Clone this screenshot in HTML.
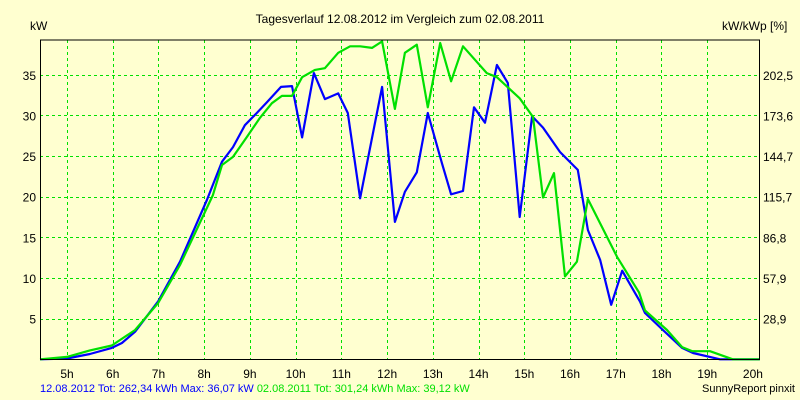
<!DOCTYPE html>
<html><head><meta charset="utf-8"><style>
html,body{margin:0;padding:0;background:#ffffd0;}
svg{display:block;font-family:"Liberation Sans",sans-serif;}
</style></head><body>
<svg id="chart" width="800" height="400" viewBox="0 0 800 400">
<rect width="800" height="400" fill="#ffffd0"/>
<text x="400" y="23" text-anchor="middle" font-size="12" fill="#000">Tagesverlauf 12.08.2012 im Vergleich zum 02.08.2011</text>
<text x="30" y="30" font-size="12" fill="#000">kW</text>
<text x="722" y="30" font-size="12" fill="#000">kW/kWp [%]</text>
<g id="grid"></g>
<g id="series"></g>
<line x1="40" y1="40" x2="760" y2="40" stroke="#000"/>
<line x1="40.5" y1="40" x2="40.5" y2="359" stroke="#000"/>
<line x1="759.5" y1="40" x2="759.5" y2="359" stroke="#000"/>
<line x1="40" y1="359.5" x2="760" y2="359.5" stroke="#000"/>
<g id="labels"></g>
<text x="40" y="392" font-size="11"><tspan fill="#0000ff">12.08.2012 Tot: 262,34 kWh Max: 36,07 kW</tspan><tspan fill="#00e000" dx="3">02.08.2011 Tot: 301,24 kWh Max: 39,12 kW</tspan></text>
<text x="795" y="392" text-anchor="end" font-size="11" fill="#000">SunnyReport pinxit</text>
</svg>
<script>
const hourTicks = [5,6,7,8,9,10,11,12,13,14,15,16,17,18,19,20];
const kwTicks = [5,10,15,20,25,30,35];
const pctLabels = ["28,9","57,9","86,8","115,7","144,7","173,6","202,5"];
const blueHours = [4.41,5,5.5,5.98,6.2,6.49,6.99,7.47,8.06,8.39,8.63,8.89,9.15,9.37,9.68,9.92,10.14,10.4,10.64,10.93,11.14,11.41,11.89,12.17,12.39,12.65,12.89,13.2,13.4,13.66,13.9,14.14,14.4,14.64,14.9,15.17,15.41,15.78,16.17,16.39,16.66,16.9,17.14,17.53,17.64,18.03,18.45,18.69,19.28,19.56,20.15];
const blueKw = [0,0.1,0.65,1.4,2.0,3.4,7.1,12.0,19.6,24.3,26.1,28.8,30.3,31.6,33.5,33.6,27.3,35.2,32.0,32.7,30.3,19.8,33.5,16.9,20.6,23.0,30.3,24.1,20.3,20.7,31.0,29.1,36.2,34.0,17.5,29.9,28.5,25.5,23.3,15.9,12.2,6.7,10.9,7.1,5.7,3.6,1.4,0.77,0,0,0];
const greenHours = [4.41,5,5.5,5.98,6.49,6.99,7.47,8.19,8.39,8.63,8.94,9.22,9.48,9.7,9.92,10.14,10.42,10.64,10.93,11.19,11.41,11.67,11.89,12.17,12.39,12.65,12.89,13.16,13.4,13.66,14.18,14.4,14.9,15.19,15.41,15.65,15.89,16.15,16.39,17.03,17.51,17.64,18.12,18.45,18.67,19.06,19.56,20.15];
const greenKw = [0,0.3,1.1,1.7,3.6,6.9,11.6,20.2,23.9,24.9,27.4,29.7,31.5,32.4,32.4,34.7,35.6,35.8,37.7,38.5,38.5,38.3,39.1,30.8,37.7,38.7,31.0,38.9,34.2,38.5,35.2,34.7,32.1,29.8,19.9,22.9,10.2,12.0,19.7,12.6,8.2,6.0,3.6,1.5,1.0,1.0,0,0];

const NS = "http://www.w3.org/2000/svg";
const X = h => 67 + (h - 5) * 45.73;
const Y = v => 359.3 - v * 8.13;
const grid = document.getElementById('grid');
const labels = document.getElementById('labels');
const series = document.getElementById('series');
function mk(tag, attrs, parent){const e=document.createElementNS(NS,tag);for(const k in attrs)e.setAttribute(k,attrs[k]);parent.appendChild(e);return e;}

hourTicks.forEach(h => {
  const x = Math.round(X(h)) + 0.5;
  if (h < 20) {
    const l = mk('line',{x1:x,y1:40,x2:x,y2:359,stroke:'#00e000','stroke-dasharray':'3,3'},grid);
    
    
  }
  const t = mk('text',{x:X(h),y:378,'text-anchor':'middle','font-size':'12',fill:'#000'},labels);
  t.textContent = h + 'h';
  
  
});
kwTicks.forEach((v,i) => {
  const y = Math.round(Y(v)) + 0.5;
  const l = mk('line',{x1:40,y1:y,x2:760,y2:y,stroke:'#00e000','stroke-dasharray':'3,3'},grid);
  
  
  const t = mk('text',{x:36,y:Y(v)+5,'text-anchor':'end','font-size':'12',fill:'#000'},labels);
  t.textContent = v;
  
  
  const r = mk('text',{x:763,y:Y(v)+5,'font-size':'12',fill:'#000'},labels);
  r.textContent = pctLabels[i];
  
  
});
function line(hs, vs, color, name){
  const pts = hs.map((h,i)=>X(h).toFixed(1)+','+Y(vs[i]).toFixed(1)).join(' ');
  const p = mk('polyline',{points:pts,fill:'none',stroke:color,'stroke-width':'2.2','stroke-linejoin':'round'},series);
  
  
}
line(blueHours, blueKw, '#0000ff', 'series-2012-line');
line(greenHours, greenKw, '#00e000', 'series-2011-line');
</script>
</body></html>
